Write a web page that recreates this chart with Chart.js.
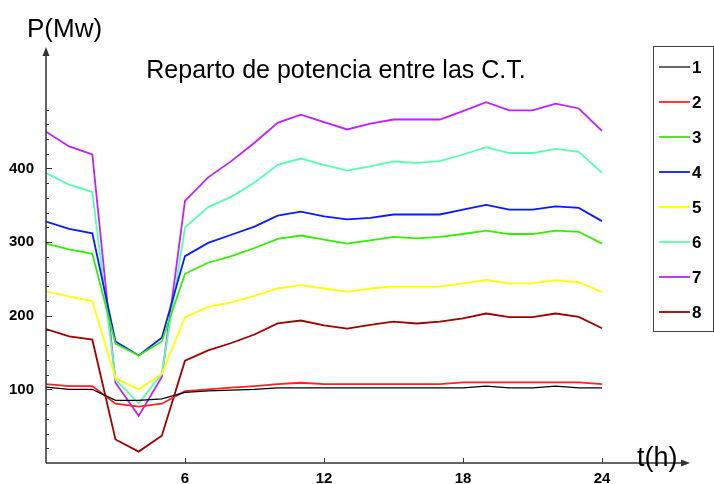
<!DOCTYPE html>
<html>
<head>
<meta charset="utf-8">
<script src="https://cdn.jsdelivr.net/npm/chart.js@4.4.1/dist/chart.umd.min.js"></script>
<style>
  html, body { margin: 0; padding: 0; background: #fff; }
  #wrap { width: 714px; height: 484px; position: relative; }
</style>
</head>
<body>
<div id="wrap"><canvas id="chart"></canvas></div>
<script>
// horas del día
const hours = [0, 1, 2, 3, 4, 5, 6, 7, 8, 9, 10, 11, 12, 13, 14, 15, 16, 17, 18, 19, 20, 21, 22, 23, 24];

// potencia (MW) de cada central
const ct1 = [103, 100, 100, 85, 85, 87, 96, 98, 99, 100, 102, 102, 102, 102, 102, 102, 102, 102, 102, 104.5, 102, 102, 104.5, 102, 102];
const ct2 = [107, 104.5, 104.5, 80.5, 76.5, 80.5, 97.5, 100, 102.5, 104.5, 107, 109, 107, 107, 107, 107, 107, 107, 109.5, 109.5, 109.5, 109.5, 109.5, 109.5, 107];
const ct3 = [298, 290, 284, 162, 146, 165, 257, 272, 281, 292, 304.5, 309, 303.5, 298, 302.5, 307, 305, 307, 311, 315.5, 311, 311, 315.5, 314, 298];
const ct4 = [328, 318, 312, 165, 146, 170, 281, 299, 310, 321, 336, 341.5, 335, 331, 333, 337.5, 337.5, 337.5, 344, 350.5, 344, 344, 348.5, 346.5, 328.5];
const ct5 = [233, 226, 220, 115, 100, 121, 198, 212, 218, 227, 237, 241.5, 237, 232.5, 237, 239.5, 239.5, 239.5, 244, 248.5, 244, 244, 248.5, 245.5, 232];
const ct6 = [394, 378, 368, 113, 81, 121, 320, 347.5, 361.5, 381, 405, 413.5, 405, 397, 403, 409.5, 407.5, 410, 419, 429, 421, 421, 426.5, 422.5, 394];
const ct7 = [450, 430, 419, 109, 64, 117, 356, 388, 410, 435, 462, 473, 463, 453, 461, 466.5, 466.5, 466.5, 478, 490, 479, 479, 488, 481.5, 451];
const ct8 = [182, 172, 167.5, 32, 15.5, 37, 139, 153, 163, 174.5, 189.5, 193.5, 187, 182.5, 187.5, 192, 189.5, 192, 196.5, 203, 198, 198, 203, 198.5, 183];

const seriesNames = ['1', '2', '3', '4', '5', '6', '7', '8'];
const seriesValues = [ct1, ct2, ct3, ct4, ct5, ct6, ct7, ct8];
const seriesColors = ['#000000', '#ff2020', '#33ee00', '#0a1aff', '#ffff00', '#55ffb0', '#c020ff', '#a00000'];

const xTicks = [6, 12, 18, 24];
const yTicks = [100, 200, 300, 400];

const chartTitle = 'Reparto de potencia entre las C.T.';
const yTitle = 'P(Mw)';
const xTitle = 't(h)';

const FONT = '"Liberation Sans", Arial, sans-serif';

// ejes, flechas, títulos y leyenda
const decor = {
  id: 'decor',
  afterDraw(chart) {
    const ctx = chart.ctx;
    const xs = chart.scales.x, ys = chart.scales.y;
    const x0 = xs.left, y0 = ys.bottom, top = ys.top, right = xs.right;
    ctx.save();
    ctx.strokeStyle = '#333';
    ctx.fillStyle = '#333';
    ctx.lineWidth = 1.5;
    ctx.beginPath();
    ctx.moveTo(x0, y0); ctx.lineTo(x0, top + 4);
    ctx.moveTo(x0, y0); ctx.lineTo(right - 4, y0);
    ctx.stroke();
    // flechas
    ctx.beginPath();
    ctx.moveTo(x0, top); ctx.lineTo(x0 - 3.5, top + 9); ctx.lineTo(x0 + 3.5, top + 9); ctx.closePath();
    ctx.fill();
    ctx.beginPath();
    ctx.moveTo(right, y0); ctx.lineTo(right - 9, y0 - 3.5); ctx.lineTo(right - 9, y0 + 3.5); ctx.closePath();
    ctx.fill();
    // marcas eje y
    ctx.lineWidth = 1;
    for (let v = 20; v <= 480; v += 20) {
      const py = Math.round(ys.getPixelForValue(v)) + 0.5;
      const len = v % 100 === 0 ? 6 : 3;
      ctx.beginPath(); ctx.moveTo(x0, py); ctx.lineTo(x0 + len, py); ctx.stroke();
    }
    // marcas eje x
    xTicks.forEach(t => {
      const px = Math.round(xs.getPixelForValue(t)) + 0.5;
      ctx.beginPath(); ctx.moveTo(px, y0); ctx.lineTo(px, y0 - 5); ctx.stroke();
    });
    // textos
    ctx.fillStyle = '#000';
    ctx.textBaseline = 'alphabetic';
    ctx.font = '26px ' + FONT;
    ctx.textAlign = 'left';
    ctx.fillText(yTitle, 27, 37);
    ctx.font = '27px ' + FONT;
    ctx.fillText(xTitle, 637, 466);
    ctx.font = '25px ' + FONT;
    ctx.textAlign = 'center';
    ctx.fillText(chartTitle, 336, 78);
    // leyenda
    const lx = 653, ly = 46, lw = 60, lh = 285;
    ctx.strokeStyle = '#444';
    ctx.lineWidth = 1;
    ctx.strokeRect(lx + 0.5, ly + 0.5, lw, lh);
    ctx.font = 'bold 17px ' + FONT;
    ctx.textAlign = 'left';
    ctx.textBaseline = 'middle';
    chart.data.datasets.forEach((ds, i) => {
      const yy = ly + 21 + i * 35;
      ctx.strokeStyle = ds.borderColor;
      ctx.lineWidth = ds.borderWidth;
      ctx.beginPath(); ctx.moveTo(659, yy); ctx.lineTo(690, yy); ctx.stroke();
      ctx.fillStyle = '#000';
      ctx.fillText(ds.label, 692, yy + 1);
    });
    ctx.restore();
  }
};

new Chart(document.getElementById('chart'), {
  type: 'line',
  data: {
    datasets: seriesValues.map((vals, i) => ({
      label: seriesNames[i],
      data: hours.map((h, k) => ({ x: h, y: vals[k] })),
      borderColor: seriesColors[i],
      borderWidth: i === 0 ? 1.2 : 1.8,
      pointRadius: 0,
      tension: 0,
      fill: false
    }))
  },
  options: {
    responsive: true,
    maintainAspectRatio: false,
    animation: false,
    events: [],
    layout: { padding: { top: 47, right: 24, left: 0, bottom: 0 } },
    plugins: { legend: { display: false }, title: { display: false }, tooltip: { enabled: false } },
    scales: {
      x: {
        type: 'linear',
        min: 0,
        max: 27.8,
        afterBuildTicks: s => { s.ticks = xTicks.map(v => ({ value: v })); },
        afterFit: s => { s.height = 20; },
        grid: { display: false, drawTicks: false },
        border: { display: false },
        ticks: { color: '#000', font: { family: FONT, size: 15, weight: 'bold' }, padding: 7, maxRotation: 0 }
      },
      y: {
        min: 0,
        max: 565,
        afterBuildTicks: s => { s.ticks = yTicks.map(v => ({ value: v })); },
        afterFit: s => { s.width = 46; },
        grid: { display: false, drawTicks: false },
        border: { display: false },
        ticks: { color: '#000', font: { family: FONT, size: 15, weight: 'bold' }, padding: 12 }
      }
    }
  },
  plugins: [decor]
});
</script>
</body>
</html>
